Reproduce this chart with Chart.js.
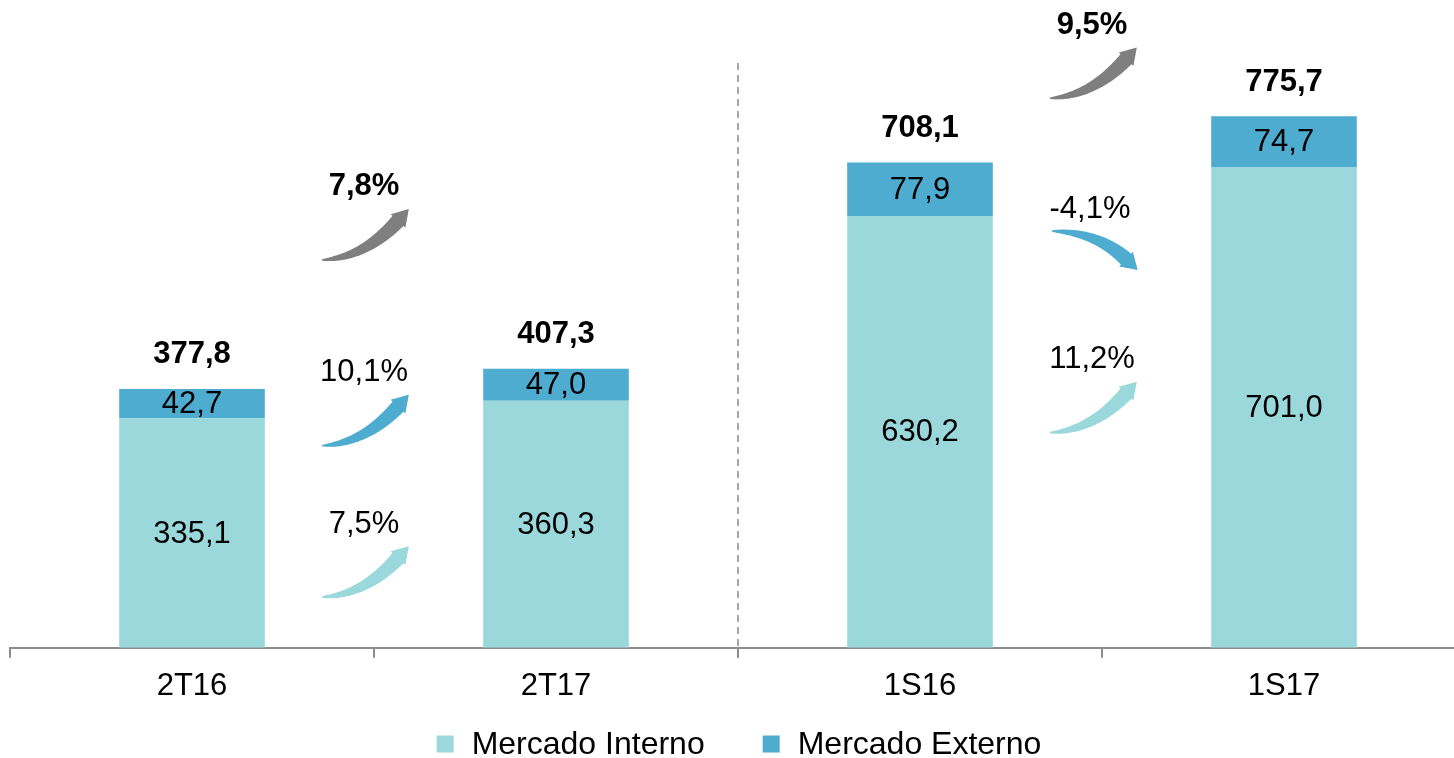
<!DOCTYPE html>
<html>
<head>
<meta charset="utf-8">
<script src="https://cdn.jsdelivr.net/npm/chart.js@4.4.1/dist/chart.umd.min.js"></script>
<style>
  html, body { margin: 0; padding: 0; background: #fff; overflow: hidden; }
  #wrap { position: absolute; left: 0; top: 0; width: 1476px; height: 758px; }
</style>
</head>
<body>
<div id="wrap"><canvas id="c"></canvas></div>
<script>
const categories = ['2T16', '2T17', '1S16', '1S17'];
const mercadoInterno = [335.1, 360.3, 630.2, 701.0];
const mercadoExterno = [42.7, 47.0, 77.9, 74.7];
const totals = [377.8, 407.3, 708.1, 775.7];
// growth annotations between category pairs (left index of pair)
const growthLabels = ['7,8%', '10,1%', '7,5%', '9,5%', '-4,1%', '11,2%'];
const growthPairs = [0, 0, 0, 2, 2, 2];
const growthKinds = ['total', 'externo', 'interno', 'total', 'externo', 'interno'];
const growthDirections = ['up', 'up', 'up', 'up', 'down', 'up'];
const growthAnchors = [566, 295, 74, 802, 608, 314];

const COLOR_INT = '#9AD8DB';
const COLOR_EXT = '#4DACCF';
const COLOR_TOT = '#7F7F7F';
const FONT = '"Liberation Sans", Arial, sans-serif';

const fmt = v => v.toFixed(1).replace('.', ',');

function drawCurvedArrow(ctx, tail, ctrl, end, thick, headLen, headW, color) {
  const n = 40;
  const left = [], right = [];
  for (let i = 0; i <= n; i++) {
    const t = i / n;
    const a = (1 - t) * (1 - t), b = 2 * (1 - t) * t, c = t * t;
    const px = a * tail[0] + b * ctrl[0] + c * end[0];
    const py = a * tail[1] + b * ctrl[1] + c * end[1];
    const dx = 2 * (1 - t) * (ctrl[0] - tail[0]) + 2 * t * (end[0] - ctrl[0]);
    const dy = 2 * (1 - t) * (ctrl[1] - tail[1]) + 2 * t * (end[1] - ctrl[1]);
    const len = Math.hypot(dx, dy) || 1;
    const nx = -dy / len, ny = dx / len;
    const h = thick / 2 * (0.08 + 0.92 * Math.pow(t, 0.7));
    left.push([px + nx * h, py + ny * h]);
    right.push([px - nx * h, py - ny * h]);
  }
  const dx = end[0] - ctrl[0], dy = end[1] - ctrl[1];
  const len = Math.hypot(dx, dy);
  const ux = dx / len, uy = dy / len;
  const nx = -uy, ny = ux;
  ctx.save();
  ctx.fillStyle = color;
  ctx.beginPath();
  ctx.moveTo(left[0][0], left[0][1]);
  for (const p of left) ctx.lineTo(p[0], p[1]);
  ctx.lineTo(end[0] + nx * headW / 2, end[1] + ny * headW / 2);
  ctx.lineTo(end[0] + ux * headLen, end[1] + uy * headLen);
  ctx.lineTo(end[0] - nx * headW / 2, end[1] - ny * headW / 2);
  for (let i = right.length - 1; i >= 0; i--) ctx.lineTo(right[i][0], right[i][1]);
  ctx.closePath();
  ctx.fill();
  ctx.restore();
}

const overlay = {
  id: 'overlay',
  afterDatasetsDraw(chart) {
    const ctx = chart.ctx;
    const xs = chart.scales.x, ys = chart.scales.y;
    const area = chart.chartArea;
    // dashed separator between the two period groups
    const sepX = (xs.getPixelForValue(1) + xs.getPixelForValue(2)) / 2;
    ctx.save();
    ctx.strokeStyle = '#8C8C8C';
    ctx.lineWidth = 1.5;
    ctx.setLineDash([7, 5]);
    ctx.beginPath();
    ctx.moveTo(sepX, 63);
    ctx.lineTo(sepX, area.bottom + 10);
    ctx.stroke();
    ctx.restore();

    // segment labels
    ctx.save();
    ctx.textAlign = 'center';
    ctx.textBaseline = 'middle';
    ctx.fillStyle = '#000';
    ctx.font = '31px ' + FONT;
    [0, 1].forEach(di => {
      const meta = chart.getDatasetMeta(di);
      const vals = di === 0 ? mercadoInterno : mercadoExterno;
      meta.data.forEach((bar, i) => {
        const p = bar.getProps(['x', 'y', 'base'], true);
        ctx.fillText(fmt(vals[i]), p.x, (p.y + p.base) / 2 + 1);
      });
    });
    ctx.font = 'bold 31px ' + FONT;
    const topMeta = chart.getDatasetMeta(1);
    topMeta.data.forEach((bar, i) => {
      ctx.fillText(fmt(totals[i]), bar.x, ys.getPixelForValue(totals[i]) - 34);
    });
    ctx.restore();

    // growth arrows
    growthLabels.forEach((lab, k) => {
      const i = growthPairs[k];
      const mx = (xs.getPixelForValue(i) + xs.getPixelForValue(i + 1)) / 2;
      const ty = ys.getPixelForValue(growthAnchors[k]);
      const color = growthKinds[k] === 'total' ? COLOR_TOT : (growthKinds[k] === 'externo' ? COLOR_EXT : COLOR_INT);
      ctx.save();
      ctx.textAlign = 'center';
      ctx.textBaseline = 'middle';
      ctx.fillStyle = '#000';
      ctx.font = (growthKinds[k] === 'total' ? 'bold ' : '') + '31px ' + FONT;
      if (growthDirections[k] === 'up') {
        drawCurvedArrow(ctx, [mx - 52, ty], [mx - 10, ty - 2], [mx + 24, ty - 39], 15, 16, 20, color);
        ctx.fillText(lab, mx - 10, ty - 73);
      } else {
        drawCurvedArrow(ctx, [mx - 50, ty], [mx - 5, ty + 1], [mx + 24, ty + 28], 15, 16, 20, color);
        ctx.fillText(lab, mx - 12, ty - 22);
      }
      ctx.restore();
    });
  },
  afterDraw(chart) {
    // legend row built from the datasets
    const ctx = chart.ctx;
    const ds = chart.data.datasets;
    ctx.save();
    ctx.font = '32px ' + FONT;
    ctx.textBaseline = 'middle';
    const box = 17, gapBT = 18, gapItems = 58;
    const widths = ds.map(d => ctx.measureText(d.label).width);
    let total = 0;
    widths.forEach((w, i) => { total += box + gapBT + w + (i < widths.length - 1 ? gapItems : 0); });
    let x = chart.width / 2 - total / 2 + 1;
    const y = 744;
    ds.forEach((d, i) => {
      ctx.fillStyle = d.backgroundColor;
      ctx.fillRect(x, y - box / 2, box, box);
      ctx.fillStyle = '#000';
      ctx.fillText(d.label, x + box + gapBT, y + 1);
      x += box + gapBT + widths[i] + gapItems;
    });
    ctx.restore();
  }
};

new Chart(document.getElementById('c'), {
  type: 'bar',
  data: {
    labels: categories,
    datasets: [
      { label: 'Mercado Interno', data: mercadoInterno, backgroundColor: COLOR_INT, stack: 's' },
      { label: 'Mercado Externo', data: mercadoExterno, backgroundColor: COLOR_EXT, stack: 's' }
    ]
  },
  options: {
    responsive: true,
    maintainAspectRatio: false,
    animation: false,
    layout: { padding: { left: 10, right: 10, top: 31, bottom: 43 } },
    datasets: { bar: { categoryPercentage: 1, barPercentage: 0.4 } },
    plugins: {
      legend: { display: false },
      tooltip: { enabled: false }
    },
    scales: {
      x: {
        stacked: true,
        grid: { display: true, drawOnChartArea: false, drawTicks: true, tickLength: 10, color: '#8C8C8C', lineWidth: 2, offset: true },
        border: { display: true, color: '#8C8C8C', width: 2 },
        ticks: { font: { size: 31, family: FONT }, color: '#000', padding: 10 }
      },
      y: {
        stacked: true,
        display: false,
        min: 0,
        max: 900
      }
    }
  },
  plugins: [overlay]
});
</script>
</body>
</html>
